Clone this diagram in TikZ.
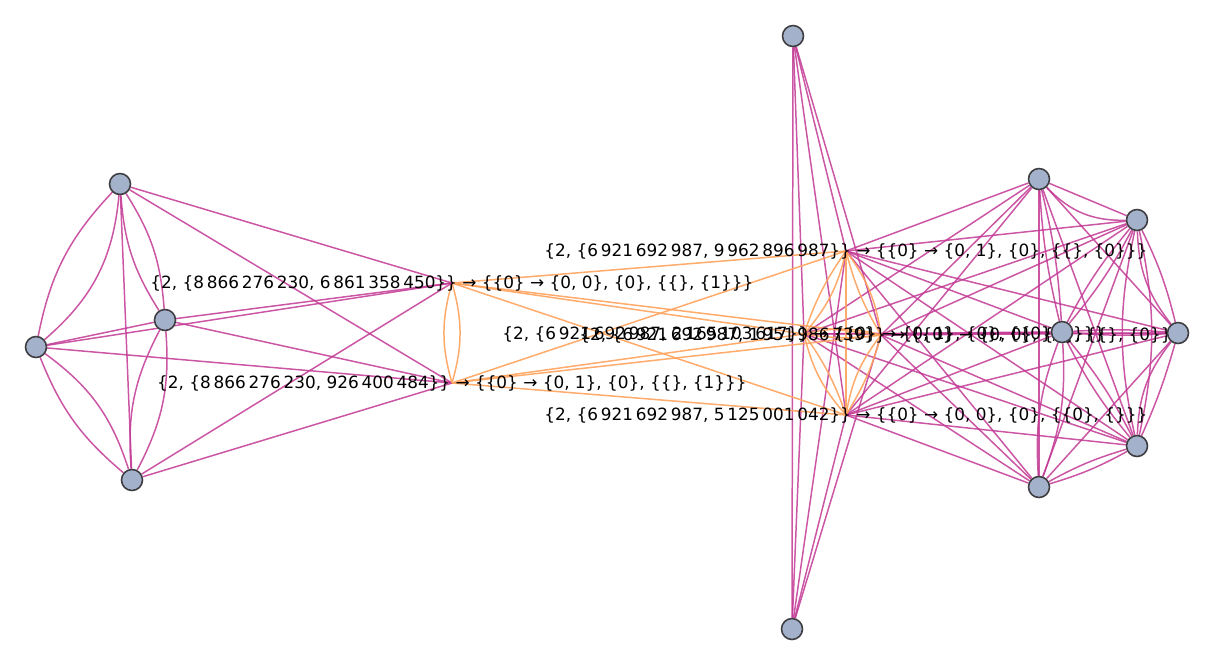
\documentclass[tikz,border=0pt]{standalone}
\usepackage{fontspec}
\setmainfont{DejaVu Sans}
\usetikzlibrary{positioning}

\definecolor{edgepurple}{RGB}{194,56,148}
\definecolor{edgeorange}{RGB}{255,162,92}
\definecolor{vtxfill}{RGB}{163,177,202}
\definecolor{vtxline}{RGB}{62,62,66}

\pgfdeclarelayer{edges}
\pgfsetlayers{edges,main}

\tikzset{
  vtx/.style={circle,draw=vtxline,fill=vtxfill,line width=0.9pt,minimum size=0.42cm,inner sep=0pt},
  lbl/.style={inner sep=0pt,font=\fontsize{9.6}{11}\selectfont},
  pe/.style={draw=edgepurple,line width=0.85pt,opacity=0.85},
  oe/.style={draw=edgeorange,line width=0.85pt,opacity=0.9},
}

\begin{document}
\begin{tikzpicture}[x=0.02cm,y=-0.02cm]
  \useasboundingbox (0,0) rectangle (1214,664);

  % vertices carrying a label
  \coordinate (l1) at (452,283);
  \coordinate (l2) at (452,383);
  \coordinate (l3) at (846,251);
  \coordinate (l4) at (846,415);
  \coordinate (m1) at (804,334);
  \coordinate (m2) at (881,335);

  \node[lbl] (l1txt) at (l1) {\{2, \{8\,866\,276\,230, 6\,861\,358\,450\}\} → \{\{0\} → \{0, 0\}, \{0\}, \{\{\}, \{1\}\}\}};
  \node[lbl] (l2txt) at (l2) {\{2, \{8\,866\,276\,230, 926\,400\,484\}\} → \{\{0\} → \{0, 1\}, \{0\}, \{\{\}, \{1\}\}\}};
  \node[lbl] (l3txt) at (l3) {\{2, \{6\,921\,692\,987, 9\,962\,896\,987\}\} → \{\{0\} → \{0, 1\}, \{0\}, \{\{\}, \{0\}\}\}};
  \node[lbl] (l4txt) at (l4) {\{2, \{6\,921\,692\,987, 5\,125\,001\,042\}\} → \{\{0\} → \{0, 0\}, \{0\}, \{\{0\}, \{\}\}\}};
  \node[lbl] (m1txt) at (m1) {\{2, \{6\,921\,692\,987, 2\,165\,103\,617\}\} → \{\{0\} → \{0, 1\}, \{0\}, \{\{0\}, \{\}\}\}};
  \node[lbl] (m2txt) at (m2) {\{2, \{6\,921\,692\,987, 1\,951\,986\,739\}\} → \{\{0\} → \{0, 0\}, \{0\}, \{\{\}, \{0\}\}\}};

  % plain vertices
  \node[vtx] (a) at (120,184) {};
  \node[vtx] (b) at (165,320) {};
  \node[vtx] (c) at (36,347) {};
  \node[vtx] (d) at (132,480) {};
  \node[vtx] (top) at (793,36) {};
  \node[vtx] (bot) at (792,629) {};
  \node[vtx] (r1) at (1039,179) {};
  \node[vtx] (r2) at (1137,220) {};
  \node[vtx] (r3) at (1062,332) {};
  \node[vtx] (r4) at (1178,333) {};
  \node[vtx] (r5) at (1137,446) {};
  \node[vtx] (r6) at (1039,487) {};

  \begin{pgfonlayer}{edges}
    % left group
    \foreach \u/\v/\b in {a/b/14,a/b/-14,a/c/22,a/c/-16,a/d/0,b/c/0,b/d/16,b/d/-16,c/d/18,c/d/-14}
      \draw[pe] (\u) to[bend left=\b] (\v);
    \foreach \u in {a,b,c,d}
      \foreach \v in {l1,l2}
        \draw[pe] (\u) -- (\v);
    % top and bottom vertices
    \draw[pe] (top) -- (bot);
    \foreach \u in {top,bot}
      \foreach \v in {l3,l4,m1,m2}
        \draw[pe] (\u) -- (\v);
    % right group
    \foreach \u/\v/\b in {r1/r2/-24,r1/r2/0,r1/r3/5,r1/r3/-5,r2/r3/6,r2/r3/-6,
        r2/r4/-18,r2/r4/6,r2/r5/12,r2/r5/-12,r3/r4/4,r3/r4/-4,r3/r5/6,r3/r5/-6,
        r3/r6/12,r3/r6/-12,r4/r5/-18,r4/r5/4,r5/r6/6,r5/r6/-6,
        r1/r4/0,r1/r5/0,r1/r6/0,r2/r6/0,r4/r6/0}
      \draw[pe] (\u) to[bend left=\b] (\v);
    \foreach \u in {r1,r2,r3,r4,r5,r6}
      \foreach \v in {l3,l4,m1,m2}
        \draw[pe] (\u) -- (\v);
    % links between labelled vertices
    \draw[oe] (l1) to[bend left=16] (l2);
    \draw[oe] (l1) to[bend right=16] (l2);
    \foreach \u in {l1,l2}
      \foreach \v in {l3,l4,m1,m2}
        \draw[oe] (\u) -- (\v);
    \draw[oe] (l3) -- (l4);
    \foreach \u/\v in {l3/m1,l3/m2,l4/m1,l4/m2,m1/m2}
      \draw[oe] (\u) to[bend left=14] (\v)
                (\u) to[bend right=8] (\v);
  \end{pgfonlayer}
\end{tikzpicture}
\end{document}
